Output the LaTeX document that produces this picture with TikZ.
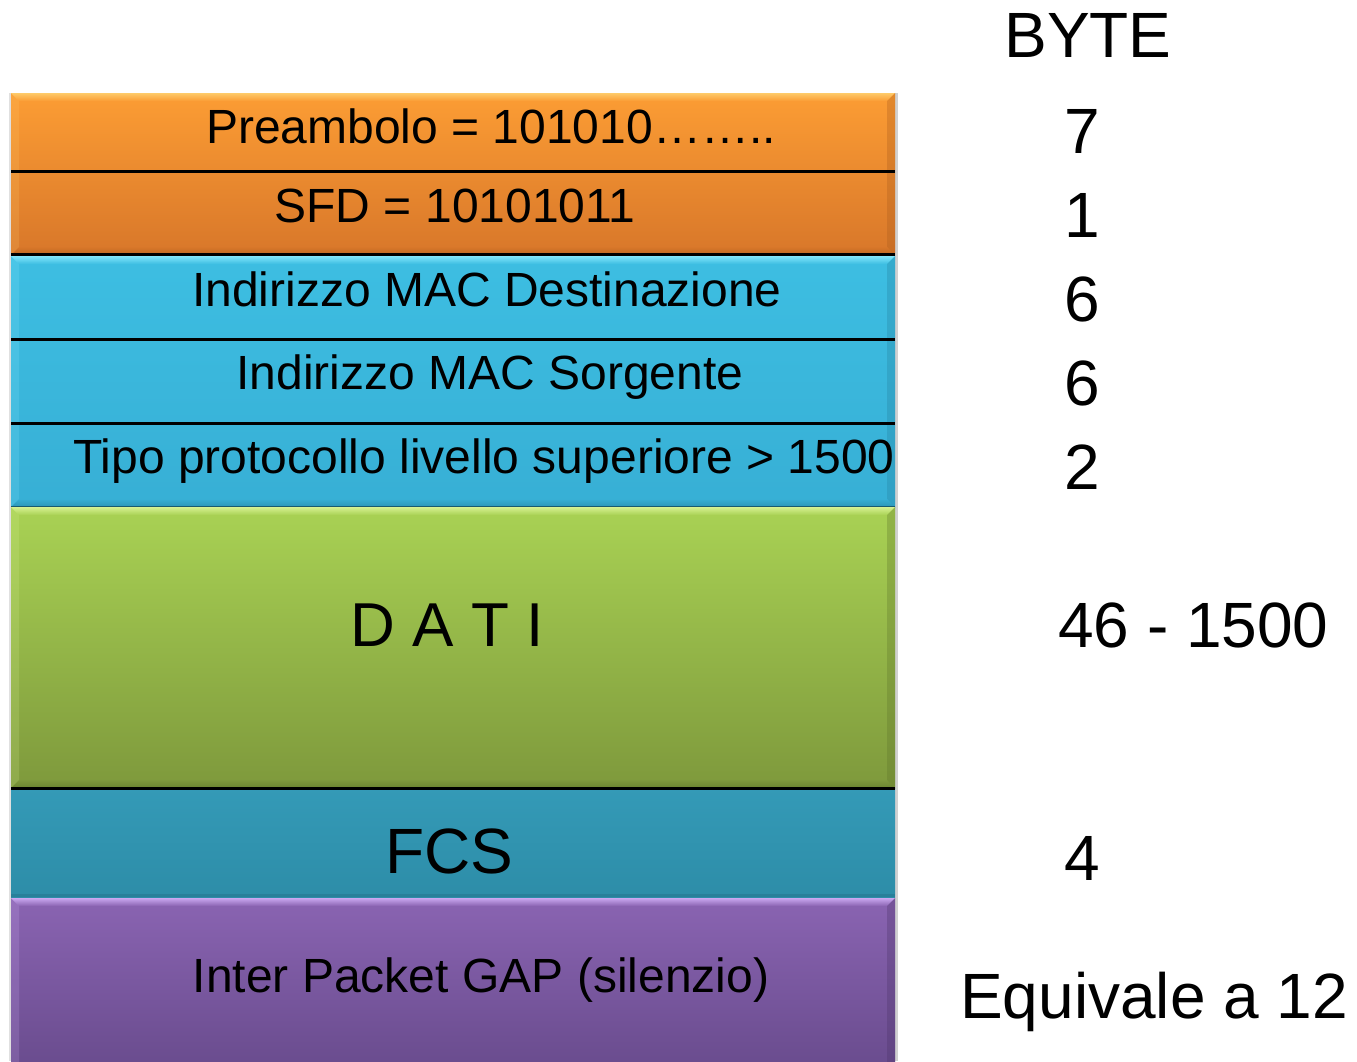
\documentclass[tikz,border=0pt]{standalone}
\usepackage{fontspec}
\setmainfont{Liberation Sans}
\definecolor{orgTop}{HTML}{FC9D34}
\definecolor{orgBot}{HTML}{D8772A}
\definecolor{orgHi}{HTML}{FFD070}
\definecolor{orgLo}{HTML}{A85A1C}
\definecolor{bluTop}{HTML}{3DBEE2}
\definecolor{bluBot}{HTML}{37AFD5}
\definecolor{bluHi}{HTML}{8AEBFF}
\definecolor{bluLo}{HTML}{24809E}
\definecolor{grnTop}{HTML}{A9D254}
\definecolor{grnBot}{HTML}{7E993C}
\definecolor{grnHi}{HTML}{DDF59A}
\definecolor{grnLo}{HTML}{5C7229}
\definecolor{tealTop}{HTML}{349AB7}
\definecolor{tealBot}{HTML}{2D8DA8}
\definecolor{tealLo}{HTML}{1F6A80}
\definecolor{purTop}{HTML}{8A64B2}
\definecolor{purBot}{HTML}{674A8B}
\definecolor{purHi}{HTML}{D2B0F8}
\definecolor{purLo}{HTML}{4A3266}
% one coloured block of the frame, with a bevelled rim
% #1 top y, #2 bottom y, #3 top colour, #4 bottom colour, #5 light rim, #6 dark rim
\newcommand\frameblock[6]{%
  \shade[top color=#3, bottom color=#4] (11,#1) rectangle (895,#2);
  \shade[top color=#5, bottom color=#3, opacity=.9]
    (11,#1) -- (895,#1) -- (887,#1+8) -- (19,#1+8) -- cycle;
  \fill[#5, opacity=.18] (11,#1) -- (19,#1+8) -- (19,#2-8) -- (11,#2) -- cycle;
  \fill[#6, opacity=.30] (895,#1) -- (895,#2) -- (887,#2-8) -- (887,#1+8) -- cycle;
  \shade[top color=#4, bottom color=#6, opacity=.55]
    (19,#2-8) -- (887,#2-8) -- (895,#2) -- (11,#2) -- cycle;
}
\begin{document}
\begin{tikzpicture}[x=1pt, y=-1pt,
  lbl/.style={anchor=base, inner sep=0pt, font=\fontsize{48}{48}\selectfont},
  big/.style={anchor=base, inner sep=0pt, font=\fontsize{64}{64}\selectfont},
  num/.style={anchor=base west, inner sep=0pt, font=\fontsize{64}{64}\selectfont},
  sepline/.style={line width=3pt, black}]
\useasboundingbox (0,0) rectangle (1357,1061);
\fill[white] (0,0) rectangle (1357,1061);

% soft shadow along the sides of the frame
\fill[black!12] (9,93) rectangle (11,1061);
\fill[black!18] (895,93) rectangle (897.5,1061);

% coloured blocks
\frameblock{93}{255}{orgTop}{orgBot}{orgHi}{orgLo}
\frameblock{256}{507}{bluTop}{bluBot}{bluHi}{bluLo}
\frameblock{507}{788}{grnTop}{grnBot}{grnHi}{grnLo}
\shade[top color=tealTop, bottom color=tealBot] (11,788) rectangle (895,897);
\fill[tealLo, opacity=.35] (11,894) rectangle (895,897);
\frameblock{898}{1080}{purTop}{purBot}{purHi}{purLo}

% separators between the fields
\draw[sepline] (11,171) -- (895,171);
\draw[sepline] (11,254) -- (895,254);
\draw[sepline] (11,339) -- (895,339);
\draw[sepline] (11,423) -- (895,423);
\draw[line width=1pt, bluLo!70!black] (11,506.5) -- (895,506.5);
\draw[sepline] (11,788) -- (895,788);

% field names
\node[lbl] (pre) at (491,143) {Preambolo = 101010……..};
\node[lbl] (sfd) at (455,222) {SFD = 10101011};
\node[lbl] (dst) at (487,306) {Indirizzo MAC Destinazione};
\node[lbl] (src) at (490,389) {Indirizzo MAC Sorgente};
\node[lbl] (typ) at (484,473) {Tipo protocollo livello superiore > 1500};
\node[big, font=\fontsize{62}{62}\selectfont] (dat) at (447,646) {D A T I};
\node[big] (fcs) at (449,873) {FCS};
\node[lbl] (gap) at (481,992) {Inter Packet GAP (silenzio)};

% field sizes in bytes
\node[big] (hdr) at (1088,57) {BYTE};
\node[num] (n7) at (1064,153) {7};
\node[num] (n1) at (1064,237) {1};
\node[num] (n6a) at (1064,321) {6};
\node[num] (n6b) at (1064,405) {6};
\node[num] (n2) at (1064,489) {2};
\node[num] (ndat) at (1058,647) {46 - 1500};
\node[num] (n4) at (1064,880) {4};
\node[num] (ngap) at (960,1018) {Equivale a 12};
\end{tikzpicture}
\end{document}
